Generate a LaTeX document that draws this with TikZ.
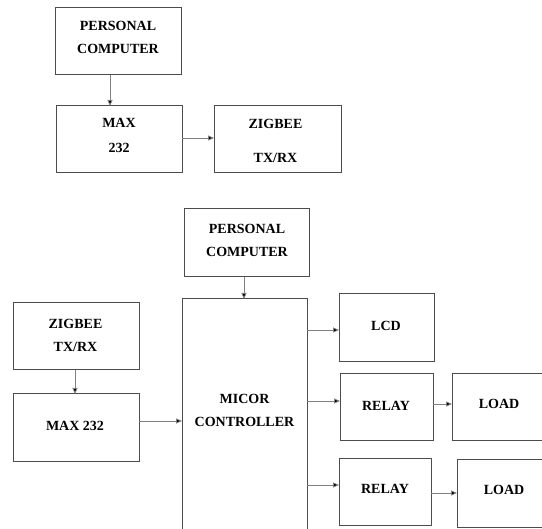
\documentclass[tikz,border=0pt]{standalone}
\usepackage{fontspec}
\setmainfont{Liberation Serif}
\usetikzlibrary{arrows.meta}
\tikzset{
  blk/.style={draw=black!70, line width=1pt, rectangle, inner sep=0pt, outer sep=0pt},
  lbl/.style={inner sep=0pt, align=center, font=\fontsize{14}{23}\selectfont\bfseries},
  arr/.style={draw=black!50, line width=0.8pt, -{Triangle[length=6pt,width=5pt,fill=black]}}
}
\begin{document}
\begin{tikzpicture}[x=1pt,y=-1pt]
\useasboundingbox (0,0) rectangle (542,529);
% top group
\node[blk, minimum width=126, minimum height=67] (pc1) at (118,41.5) {};
\node[lbl] (pc1t) at (118,37.5) {PERSONAL\\COMPUTER};
\node[blk, minimum width=126, minimum height=67] (max1) at (119,139.5) {};
\node[lbl, font=\fontsize{14}{25}\selectfont\bfseries] (max1t) at (119,135.5) {MAX\\232};
\node[blk, minimum width=127, minimum height=67] (zig1) at (277.5,139.5) {};
\node[lbl, font=\fontsize{14}{34}\selectfont\bfseries] (zig1t) at (275.5,141) {ZIGBEE\\TX/RX};
% bottom group
\node[blk, minimum width=125, minimum height=68] (pc2) at (246.5,243) {};
\node[lbl] (pc2t) at (247,240) {PERSONAL\\COMPUTER};
\node[blk, minimum width=125, minimum height=260, anchor=north] (mc) at (244.5,299) {};
\node[lbl] (mct) at (244.5,410.5) {MICOR\\CONTROLLER};
\node[blk, minimum width=126, minimum height=67] (zig2) at (76,336.5) {};
\node[lbl] (zig2t) at (75.5,335) {ZIGBEE\\TX/RX};
\node[blk, minimum width=126, minimum height=68] (max2) at (76,428) {};
\node[lbl] (max2t) at (75,426) {MAX 232};
\node[blk, minimum width=95, minimum height=68] (lcd) at (386.5,328) {};
\node[lbl] (lcdt) at (386,326) {LCD};
\node[blk, minimum width=93, minimum height=67] (relay1) at (386.5,407.5) {};
\node[lbl] (relay1t) at (386,406) {RELAY};
\node[blk, minimum width=96, minimum height=67] (load1) at (500,407.5) {};
\node[lbl] (load1t) at (499,404) {LOAD};
\node[blk, minimum width=92, minimum height=67] (relay2) at (385,492.5) {};
\node[lbl] (relay2t) at (385,489) {RELAY};
\node[blk, minimum width=94, minimum height=68] (load2) at (504,494) {};
\node[lbl] (load2t) at (504,490) {LOAD};
% connectors
\draw[arr] ([xshift=-8pt]pc1.south) -- ([xshift=-8pt]pc1.south |- max1.north);
\draw[arr] ([yshift=1.5pt]max1.east) -- ([yshift=1.5pt]max1.east -| zig1.west);
\draw[arr] ([xshift=-2.5pt]pc2.south) -- ([xshift=-2.5pt]pc2.south |- mc.north);
\draw[arr] ([xshift=-1pt]zig2.south) -- ([xshift=-1pt]zig2.south |- max2.north);
\draw[arr] ([yshift=7pt]max2.east) -- ([yshift=7pt]max2.east -| mc.west);
\draw[arr] ([yshift=-2pt]lcd.west -| mc.east) -- ([yshift=-2pt]lcd.west);
\draw[arr] ([yshift=6.5pt]relay1.west -| mc.east) -- ([yshift=6.5pt]relay1.west);
\draw[arr] ([yshift=3.5pt]relay1.east) -- ([yshift=3.5pt]relay1.east -| load1.west);
\draw[arr] ([yshift=7.5pt]relay2.west -| mc.east) -- ([yshift=7.5pt]relay2.west);
\draw[arr] ([yshift=-0.5pt]relay2.east) -- ([yshift=-0.5pt]relay2.east -| load2.west);
\end{tikzpicture}
\end{document}
